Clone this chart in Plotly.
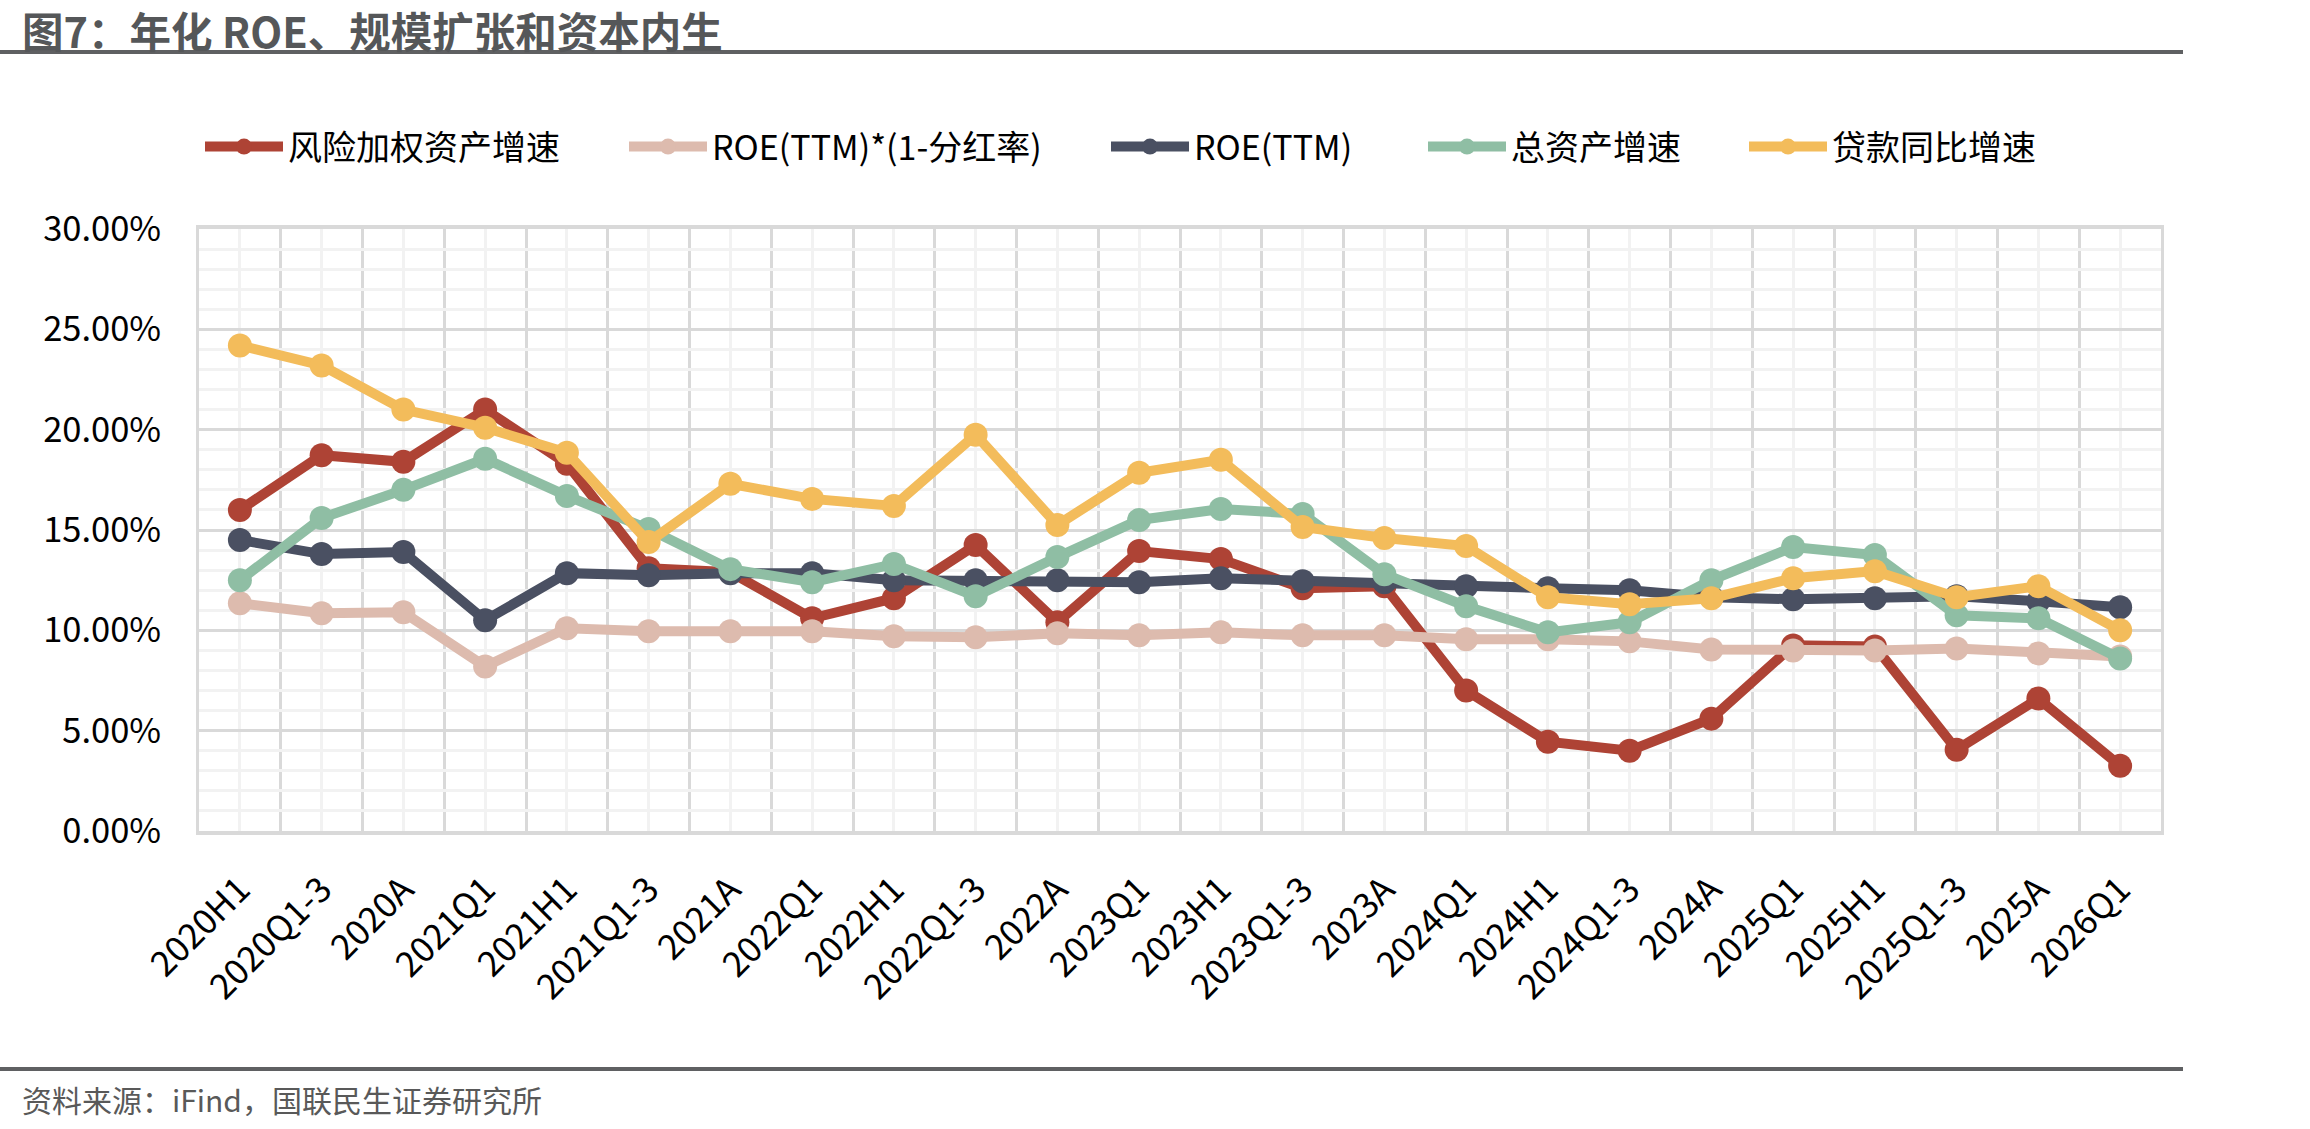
import plotly.graph_objects as go

categories = ["2020H1", "2020Q1-3", "2020A", "2021Q1", "2021H1", "2021Q1-3", "2021A",
              "2022Q1", "2022H1", "2022Q1-3", "2022A", "2023Q1", "2023H1", "2023Q1-3",
              "2023A", "2024Q1", "2024H1", "2024Q1-3", "2024A", "2025Q1", "2025H1",
              "2025Q1-3", "2025A", "2026Q1"]

rwa_growth = [16.0, 18.73, 18.4, 21.0, 18.3, 13.1, 12.9, 10.6, 11.6, 14.25, 10.4, 13.95,
              13.55, 12.1, 12.2, 7.0, 4.45, 4.0, 5.6, 9.25, 9.2, 4.05, 6.6, 3.25]
roe_after_div = [11.35, 10.85, 10.9, 8.2, 10.1, 9.95, 9.95, 9.95, 9.7, 9.65, 9.85, 9.75,
                 9.9, 9.75, 9.75, 9.55, 9.55, 9.45, 9.05, 9.0, 9.0, 9.1, 8.85, 8.7]
roe_ttm = [14.5, 13.8, 13.9, 10.5, 12.85, 12.75, 12.85, 12.85, 12.5, 12.5, 12.5, 12.4,
           12.6, 12.45, 12.4, 12.2, 12.1, 12.0, 11.65, 11.55, 11.6, 11.7, 11.45, 11.15]
asset_growth = [12.5, 15.6, 17.0, 18.55, 16.7, 15.05, 13.05, 12.4, 13.3, 11.7, 13.65, 15.5,
                16.05, 15.8, 12.8, 11.2, 9.9, 10.4, 12.5, 14.15, 13.75, 10.75, 10.6, 8.6]
loan_growth = [24.2, 23.2, 21.0, 20.1, 18.85, 14.4, 17.3, 16.55, 16.2, 19.75, 15.25, 17.85,
               18.5, 15.15, 14.6, 14.2, 11.65, 11.3, 11.6, 12.6, 12.95, 11.65, 12.2, 10.0]

series_names = ["风险加权资产增速", "ROE(TTM)*(1-分红率)", "ROE(TTM)", "总资产增速", "贷款同比增速"]
series_values = [rwa_growth, roe_after_div, roe_ttm, asset_growth, loan_growth]
series_colors = ["#AE4335", "#DDBBAE", "#4A5062", "#8FBEA4", "#F3BC5B"]

title_text = "图7：年化 ROE、规模扩张和资本内生"
source_text = "资料来源：iFind，国联民生证券研究所"

W, H = 2310, 1129
L, R, T, B = 199, 149, 229, 298
PW, PH = W - L - R, H - T - B
FONT = "Noto Sans CJK SC"

def px_x(px):
    return (px - L) / PW

def px_y(py):
    return (H - B - py) / PH

# left edge (px) of each legend entry, as laid out in the reference
legend_left_px = [200, 624, 1106, 1423, 1744]
legend_ids = ["legend", "legend2", "legend3", "legend4", "legend5"]

x_pos = list(range(len(categories)))

fig = go.Figure()
for name, vals, col, lid in zip(series_names, series_values, series_colors, legend_ids):
    fig.add_trace(go.Scatter(
        x=x_pos, y=vals, name=name, mode="lines+markers",
        line=dict(color=col, width=10),
        marker=dict(color=col, size=24),
        cliponaxis=False, legend=lid,
    ))

legend_layout = {}
for lid, lx in zip(legend_ids, legend_left_px):
    legend_layout[lid] = dict(
        orientation="h", x=px_x(lx), xanchor="left", y=px_y(147), yanchor="middle",
        font=dict(size=34, family=FONT, color="#000000"),
        itemwidth=78, bgcolor="rgba(0,0,0,0)",
    )

fig.update_layout(
    width=W, height=H,
    margin=dict(l=L, r=R, t=T, b=B, pad=0),
    paper_bgcolor="white", plot_bgcolor="white",
    font=dict(family=FONT, size=33, color="#000000"),
    showlegend=True,
    **legend_layout,
    xaxis=dict(
        range=[-0.5, len(categories) - 0.5],
        tickmode="array", tickvals=x_pos, ticktext=categories,
        tickangle=-45, ticks="", ticklabelstandoff=20,
        tickfont=dict(size=35, family=FONT, color="#000000"),
        showgrid=True, gridcolor="#F2F2F2", gridwidth=3,
        minor=dict(tickmode="linear", tick0=-0.5, dtick=1, showgrid=True,
                   gridcolor="#D9D9D9", gridwidth=3, ticks=""),
        showline=True, linecolor="#D9D9D9", linewidth=4, mirror=True,
        zeroline=False, fixedrange=True,
    ),
    yaxis=dict(
        range=[0, 30], tickmode="linear", tick0=0, dtick=5,
        tickformat=".2f", ticksuffix="%", ticks="", ticklabelstandoff=28,
        tickfont=dict(size=34.5, family=FONT, color="#000000"),
        showgrid=True, gridcolor="#D9D9D9", gridwidth=3,
        minor=dict(tickmode="linear", tick0=0, dtick=1, showgrid=True,
                   gridcolor="#F2F2F2", gridwidth=3, ticks=""),
        showline=True, linecolor="#D9D9D9", linewidth=3, mirror=True,
        zeroline=False, fixedrange=True,
    ),
)

fig.add_annotation(
    text="<b>" + title_text + "</b>", xref="paper", yref="paper",
    x=px_x(20), y=px_y(30), xanchor="left", yanchor="middle", showarrow=False,
    font=dict(size=41.5, family=FONT, color="#555759"),
)
fig.add_annotation(
    text=source_text, xref="paper", yref="paper",
    x=px_x(20), y=px_y(1099), xanchor="left", yanchor="middle", showarrow=False,
    font=dict(size=30, family=FONT, color="#595959"),
)
for yline in (52, 1069):
    fig.add_shape(type="line", xref="paper", yref="paper",
                  x0=px_x(0), x1=px_x(2183), y0=px_y(yline), y1=px_y(yline),
                  line=dict(color="#5F6062", width=4))

fig.write_html("out.html")
